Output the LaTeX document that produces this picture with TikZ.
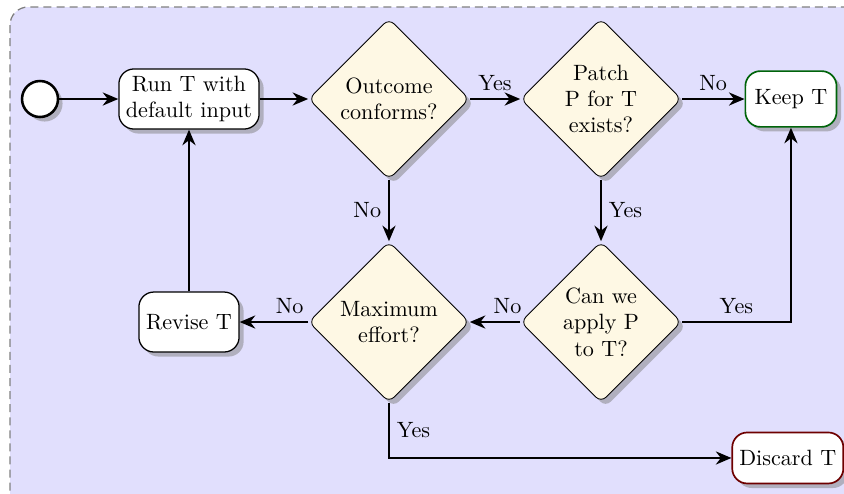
\documentclass[tikz,border=0pt]{standalone}
\usetikzlibrary{shapes.geometric,shadows,arrows.meta}

\definecolor{bglilac}{RGB}{225,223,253}
\definecolor{ivory}{RGB}{254,248,228}
\definecolor{keepgreen}{RGB}{0,100,10}
\definecolor{dropred}{RGB}{110,0,0}

\tikzset{
  every node/.style={font=\fontsize{10.5pt}{12.5pt}\selectfont},
  task/.style={shape=rectangle,rounded corners=2.5mm,draw=black,semithick,fill=white,
    align=center,drop shadow,minimum height=1cm},
  decision/.style={shape=diamond,rounded corners=1.2mm,draw=black,fill=ivory,
    align=center,drop shadow,minimum size=2.68cm,inner sep=0pt},
  flow/.style={draw,thick,-{Stealth[length=2.6mm,width=2.2mm]}}
}

\begin{document}
\begin{tikzpicture}
            \clip (0,0) rectangle (14.067,-8.233);
            \useasboundingbox (0,0) rectangle (14.067,-8.233);
            \draw[gray,semithick,dash pattern=on 3.8pt off 2.4pt,fill=bglilac,rounded corners=3mm]
                (0.167,-0.117) rectangle (14.6,-8.6);

            \node[shape=circle,draw=black,very thick,fill=white,drop shadow,minimum size=0.6cm] (start) at (0.667,-1.65) {};
            \node[task,minimum width=2.28cm] (run) at (3.15,-1.65) {Run T with\\default input};
            \node[decision] (outcome) at (6.483,-1.65) {Outcome\\conforms?};
            \node[decision] (patch) at (10.017,-1.65) {Patch\\P for T\\exists?};
            \node[task,draw=keepgreen,thick,minimum width=1.52cm,minimum height=0.93cm] (keep) at (13.183,-1.65) {Keep T};
            \node[decision] (effort) at (6.483,-5.367) {Maximum\\effort?};
            \node[decision] (apply) at (10.017,-5.367) {Can we\\apply P\\to T?};
            \node[task,minimum width=1.67cm] (revise) at (3.15,-5.367) {Revise T};
            \node[task,draw=dropred,thick,minimum width=1.8cm,minimum height=0.85cm] (discard) at (13.13,-7.633) {Discard T};

            \path (start) edge[flow] (run);
            \path (run) edge[flow] (outcome);
            \path (outcome) edge[flow] node[above] {Yes} (patch);
            \path (patch) edge[flow] node[above] {No} (keep);
            \path (outcome) edge[flow] node[left] {No} (effort);
            \path (patch) edge[flow] node[right] {Yes} (apply);
            \draw[flow] (apply) -| node[pos=0.25,above] {Yes} (keep);
            \path (apply) edge[flow] node[pos=0.25,above] {No} (effort);
            \path (effort) edge[flow] node[pos=0.27,above] {No} (revise);
            \path (revise) edge[flow] (run);
            \draw[flow] (effort) |- node[pos=0.25,right] {Yes} (discard);
        \end{tikzpicture}
\end{document}
